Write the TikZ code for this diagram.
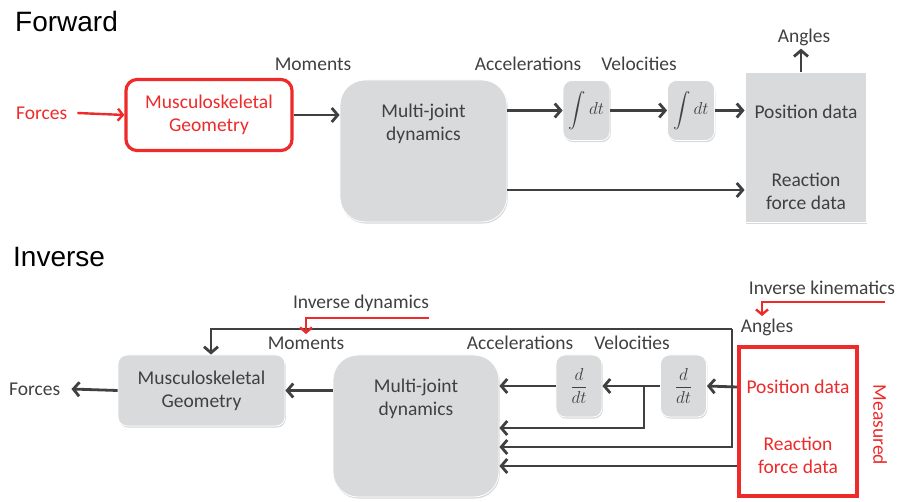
\documentclass[tikz,border=0pt]{standalone}
\usepackage{amsmath}
\usepackage{fontspec}
\setmainfont{Carlito}
\newfontfamily\titlefont{Liberation Sans}
\usetikzlibrary{arrows.meta,shadows}
\definecolor{tx}{HTML}{404040}
\definecolor{bx}{HTML}{D9DADB}
\definecolor{rd}{HTML}{EE2A2A}
\begin{document}
\begin{tikzpicture}[x=1pt,y=-1pt,
  font=\fontsize{19.5}{23}\selectfont, text=tx,
  gbox/.style={fill=bx, draw=white, line width=0.8pt, rounded corners=9pt,
    drop shadow={shadow xshift=0.8pt, shadow yshift=-1.6pt, opacity=0.3},
    inner sep=0pt, align=center},
  rbox/.style={fill=white, draw=rd, line width=3.2pt, inner sep=0pt, align=center, text=rd},
  lbl/.style={inner sep=0pt, align=center},
  mth/.style={font=\fontsize{16}{19}\selectfont},
  ttl/.style={font=\titlefont\fontsize{28}{32}\selectfont, text=black, anchor=west, inner sep=0pt},
  arr/.style={draw=tx, line width=2.8pt, -{Straight Barb[length=6pt,width=14pt]}},
  rarr/.style={draw=rd, line width=2.4pt, -{Straight Barb[length=5pt,width=12pt]}},
  ln/.style={draw=tx, line width=2.8pt}
]
\useasboundingbox (0,0) rectangle (897,502);

% ---------------- Forward ----------------
\node[ttl] (tf) at (15,21) {Forward};
\node[lbl, text=rd, anchor=west] (ff) at (16,113) {Forces};
\node[rbox, rounded corners=11pt, minimum width=166pt, minimum height=71pt] (fm) at (209,115) {Musculoskeletal\\Geometry};
\node[gbox, rounded corners=25pt, minimum width=167pt, minimum height=142pt] (fd) at (423.5,151) {};
\node[lbl] (fdt) at (423.5,124) {Multi-joint\\dynamics};
\node[gbox, mth, minimum width=47pt, minimum height=60pt] (fi1) at (586.5,110.5) {$\displaystyle\int dt$};
\node[gbox, mth, minimum width=47pt, minimum height=60pt] (fi2) at (691,110.5) {$\displaystyle\int dt$};
\node[gbox, rounded corners=0pt, minimum width=121pt, minimum height=150pt] (fp) at (805.5,147) {};
\node[lbl] (fpt) at (806,112) {Position data};
\node[lbl] (frt) at (806,191) {Reaction\\force data};
\node[lbl] (fang) at (804,37) {Angles};
\node[lbl] (fmom) at (313,64) {Moments};
\node[lbl] (facc) at (528,64) {Accelerations};
\node[lbl] (fvel) at (639,64) {Velocities};

\coordinate (fr) at (507,190);
\draw[rarr] ([xshift=10pt]ff.east) -- (fm.west);
\draw[arr] (fm.east) -- (fm.east -| fd.west);
\draw[arr] (fi1.west -| fd.east) -- (fi1.west);
\draw[arr] (fi1.east) -- (fi2.west);
\draw[arr] (fi2.east) -- (fi2.east -| fp.west);
\draw[arr] (fr) -- (fr -| fp.west);
\draw[arr] (fp.north -| 801,0) -- ([yshift=-3pt]fang.south -| 801,0);

% ---------------- Inverse ----------------
\node[ttl] (ti) at (13,257) {Inverse};
\node[lbl, anchor=west] (if) at (9,389) {Forces};
\node[gbox, minimum width=167pt, minimum height=71pt] (imu) at (201.5,390.5) {Musculoskeletal\\Geometry};
\node[gbox, rounded corners=25pt, minimum width=166pt, minimum height=142pt] (id) at (416,426) {};
\node[lbl] (idt) at (416,399) {Multi-joint\\dynamics};
\node[gbox, mth, minimum width=46pt, minimum height=62pt] (id1) at (579,386) {$\displaystyle\frac{d}{dt}$};
\node[gbox, mth, minimum width=46pt, minimum height=62pt] (id2) at (683.5,386) {$\displaystyle\frac{d}{dt}$};
\node[rbox, line width=3.6pt, minimum width=118pt, minimum height=149pt] (ims) at (798,421.5) {};
\node[lbl, text=rd] (ipt) at (798,387) {Position data};
\node[lbl, text=rd] (irt) at (798,455) {Reaction\\force data};
\node[lbl, text=rd, rotate=-90] (imeas) at (880,425) {Measured};
\node[lbl] (iang) at (767,327) {Angles};
\node[lbl] (iik) at (822,288) {Inverse kinematics};
\node[lbl] (iid) at (361,303) {Inverse dynamics};
\node[lbl] (imom) at (306,343) {Moments};
\node[lbl] (iacc) at (520,343) {Accelerations};
\node[lbl] (ivel) at (632,343) {Velocities};

\coordinate (ip) at (737,387);
\coordinate (ibr) at (644,387);
\coordinate (ibr2) at (644,428);
\coordinate (iac) at (732,329);
\coordinate (iac2) at (732,447);
\coordinate (itop) at (211,329);
\coordinate (irf) at (737,466);
\draw[arr] (ip) -- (id2.east);
\draw[arr] (id2.west) -- (id1.east);
\draw[arr] (id1.west) -- (id1.west -| id.east);
\draw[arr, line join=miter] (ibr) -- (ibr2) -- (ibr2 -| id.east);
\draw[arr, line join=miter] (iac) -- (itop) -- (imu.north -| itop);
\draw[arr, line join=miter] (iac) -- (iac2) -- (iac2 -| id.east);
\draw[arr] (irf) -- (irf -| id.east);
\draw[arr] (id.west |- imu.east) -- (imu.east);
\draw[arr] (imu.west) -- ([xshift=11pt]if.east);

\coordinate (rd1) at (429,318);
\coordinate (rd2) at (306,318);
\coordinate (rd3) at (306,334);
\draw[rarr] (rd1) -- (rd2) -- (rd3);
\coordinate (rk1) at (885,302);
\coordinate (rk2) at (762,302);
\coordinate (rk3) at (762,316);
\draw[rarr] (rk1) -- (rk2) -- (rk3);
\end{tikzpicture}
\end{document}
